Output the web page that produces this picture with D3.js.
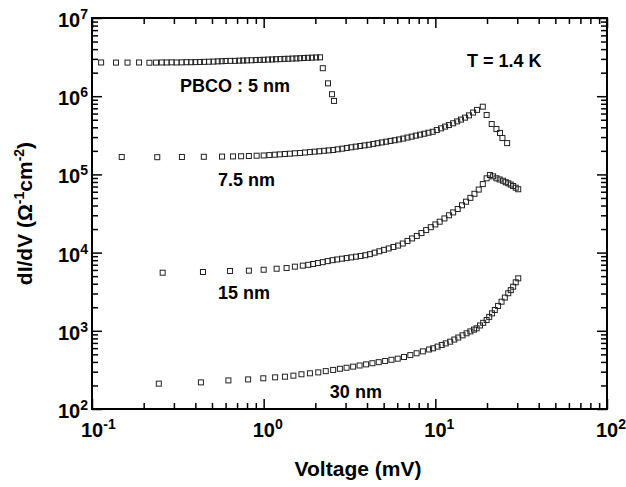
<!DOCTYPE html>
<html>
<head>
<meta charset="utf-8">
<script src="https://cdn.jsdelivr.net/npm/d3@7"></script>
<style>
  body { margin: 0; background: #fff; }
  svg text { font-family: "Liberation Sans", Arial, Helvetica, sans-serif; font-weight: bold; fill: #000; }
</style>
</head>
<body>
<div id="chart"></div>
<script>
// dI/dV vs voltage, four PBCO thicknesses, T = 1.4 K
const v5nm = [0.113, 0.138, 0.161, 0.188, 0.216, 0.236, 0.255, 0.272, 0.291, 0.311, 0.333, 0.355, 0.378, 0.40, 0.425, 0.45, 0.48, 0.51, 0.54, 0.57, 0.60, 0.64, 0.68, 0.72, 0.76, 0.80, 0.85, 0.90, 0.95, 1.00, 1.06, 1.12, 1.18, 1.25, 1.32, 1.39, 1.47, 1.55, 1.63, 1.72, 1.81, 1.91, 2.02, 2.13, 2.21, 2.37, 2.50, 2.57];
const g5nm = [2.70e6, 2.69e6, 2.69e6, 2.70e6, 2.68e6, 2.69e6, 2.70e6, 2.70e6, 2.71e6, 2.70e6, 2.71e6, 2.72e6, 2.72e6, 2.73e6, 2.74e6, 2.75e6, 2.76e6, 2.77e6, 2.79e6, 2.80e6, 2.82e6, 2.83e6, 2.83e6, 2.85e6, 2.86e6, 2.87e6, 2.88e6, 2.90e6, 2.91e6, 2.92e6, 2.94e6, 2.95e6, 2.97e6, 2.98e6, 3.00e6, 3.01e6, 3.03e6, 3.04e6, 3.06e6, 3.08e6, 3.10e6, 3.11e6, 3.13e6, 3.14e6, 2.28e6, 1.46e6, 1.06e6, 8.7e5];

const v75nm = [0.149, 0.24, 0.334, 0.448, 0.572, 0.663, 0.739, 0.82, 0.91, 1.0, 1.08, 1.16, 1.24, 1.33, 1.42, 1.52, 1.63, 1.74, 1.86, 1.98, 2.11, 2.25, 2.39, 2.54, 2.70, 2.87, 3.05, 3.24, 3.44, 3.65, 3.87, 4.10, 4.35, 4.61, 4.88, 5.17, 5.48, 5.80, 6.14, 6.50, 6.88, 7.28, 7.70, 8.15, 8.62, 9.12, 9.65, 10.2, 10.8, 11.4, 12.0, 12.7, 13.4, 14.1, 14.9, 15.7, 16.6, 17.5, 18.9, 19.9, 21.3, 22.7, 23.8, 24.6, 26.2];
const g75nm = [166700, 166000, 167000, 167900, 169000, 169800, 170600, 171800, 173400, 174600, 176600, 178600, 180300, 182400, 184100, 186200, 187900, 190500, 192800, 195400, 197700, 200400, 202800, 205100, 209400, 213300, 217800, 222300, 226500, 230700, 235000, 239300, 245500, 250600, 256400, 261800, 267900, 273500, 279900, 287100, 295800, 304100, 313300, 322100, 331100, 341200, 350800, 369000, 388200, 408300, 427600, 450800, 476400, 502300, 532100, 568900, 618000, 668300, 734500, 575400, 440600, 380200, 338800, 291700, 251200];

const v15nm = [0.258, 0.443, 0.637, 0.82, 1.0, 1.19, 1.36, 1.52, 1.69, 1.82, 1.94, 2.07, 2.21, 2.36, 2.52, 2.68, 2.86, 3.04, 3.24, 3.45, 3.67, 3.91, 4.16, 4.43, 4.72, 5.02, 5.35, 5.70, 6.07, 6.46, 6.88, 7.32, 7.80, 8.30, 8.84, 9.41, 10.0, 10.6, 11.3, 12.0, 12.7, 13.5, 14.3, 15.1, 16.0, 16.9, 17.9, 18.9, 19.9, 20.8, 21.7, 22.7, 23.7, 24.8, 25.7, 26.6, 27.5, 28.4, 29.4, 30.4];
const g15nm = [5530, 5650, 5820, 5875, 6040, 6220, 6350, 6610, 6810, 6980, 7150, 7345, 7550, 7780, 8000, 8170, 8360, 8510, 8690, 8870, 9060, 9250, 9550, 9980, 10400, 10840, 11300, 11800, 12300, 13060, 14090, 15170, 16330, 17780, 19410, 21130, 22910, 24830, 27350, 29990, 32660, 36060, 40270, 44770, 50120, 56490, 63970, 75160, 89130, 98180, 94410, 89130, 86100, 82990, 79430, 76910, 74130, 71120, 67610, 64570];

const v30nm = [0.245, 0.431, 0.623, 0.812, 0.995, 1.166, 1.33, 1.49, 1.66, 1.86, 2.08, 2.30, 2.54, 2.78, 3.04, 3.32, 3.62, 3.95, 4.30, 4.68, 5.10, 5.55, 6.04, 6.57, 7.15, 7.78, 8.46, 9.20, 9.70, 10.3, 10.9, 11.5, 12.2, 12.9, 13.6, 14.4, 15.2, 16.0, 16.8, 17.4, 18.2, 19.0, 19.9, 20.6, 21.4, 22.2, 23.2, 24.3, 25.4, 26.6, 27.5, 28.4, 29.4, 30.4];
const g30nm = [211, 219, 232, 239, 247, 254, 259, 267, 278, 286, 294, 305, 316, 327, 337, 348, 360, 372, 385, 397, 411, 426, 440, 462, 489, 516, 546, 577, 597, 628, 659, 690, 726, 773, 820, 875, 929, 982, 1035, 1076, 1170, 1265, 1374, 1507, 1671, 1845, 2080, 2355, 2661, 3020, 3311, 3664, 4169, 4688];

const xTickExps = [-1, 0, 1, 2];
const yTickExps = [2, 3, 4, 5, 6, 7];
const minorMults = [2, 3, 4, 5, 6, 7, 8, 9];

// label texts, anchored at (voltage, dI/dV) of their left baseline
const labelTexts = ["PBCO : 5 nm", "7.5 nm", "15 nm", "30 nm", "T = 1.4 K"];
const labelV = [0.326, 0.542, 0.542, 2.43, 15.3];
const labelG = [1.13e6, 7.1e4, 2550, 138, 2.36e6];

const W = 626, H = 487;
const margin = { top: 18, right: 19, bottom: 78, left: 92 };
const width = W - margin.left - margin.right;
const height = H - margin.top - margin.bottom;

const x = d3.scaleLog().domain([0.1, 100]).range([0, width]);
const y = d3.scaleLog().domain([1e2, 1e7]).range([height, 0]);

const svg = d3.select("#chart").append("svg")
    .attr("width", W)
    .attr("height", H)
  .append("g")
    .attr("transform", "translate(" + margin.left + "," + margin.top + ")");

function minorTicks(exps) {
  const out = [];
  exps.slice(0, -1).forEach(e => minorMults.forEach(m => out.push(m * Math.pow(10, e))));
  return out;
}
const xMajor = xTickExps.map(e => Math.pow(10, e));
const yMajor = yTickExps.map(e => Math.pow(10, e));

function drawAxis(axisFn, scale, vals, size, transform) {
  const g = svg.append("g")
      .attr("transform", transform)
      .call(axisFn(scale).tickValues(vals).tickSizeInner(size).tickSizeOuter(0).tickFormat(""));
  g.select(".domain").remove();
  g.selectAll(".tick line").attr("stroke", "#000").attr("stroke-width", 1.5);
}

// ticks point inward on all four sides
drawAxis(d3.axisBottom, x, minorTicks(xTickExps), -6, "translate(0," + height + ")");
drawAxis(d3.axisBottom, x, xMajor, -10, "translate(0," + height + ")");
drawAxis(d3.axisTop, x, minorTicks(xTickExps), -6, "translate(0,0)");
drawAxis(d3.axisTop, x, xMajor, -10, "translate(0,0)");
drawAxis(d3.axisLeft, y, minorTicks(yTickExps), -6, "translate(0,0)");
drawAxis(d3.axisLeft, y, yMajor, -10, "translate(0,0)");
drawAxis(d3.axisRight, y, minorTicks(yTickExps), -6, "translate(" + width + ",0)");
drawAxis(d3.axisRight, y, yMajor, -10, "translate(" + width + ",0)");

svg.append("rect")
    .attr("width", width)
    .attr("height", height)
    .attr("fill", "none")
    .attr("stroke", "#000")
    .attr("stroke-width", 2);

// tick labels: 10 with superscript exponent
xTickExps.forEach(e => {
  const t = svg.append("text")
      .attr("x", x(Math.pow(10, e)) - 11)
      .attr("y", height + 28)
      .style("font-size", "20px");
  t.append("tspan").text("10");
  t.append("tspan").attr("dy", -8).style("font-size", "14px").text(e);
});
yTickExps.forEach(e => {
  const t = svg.append("text")
      .attr("x", -4)
      .attr("y", y(Math.pow(10, e)) + 9)
      .attr("text-anchor", "end")
      .style("font-size", "20px");
  t.append("tspan").text("10");
  t.append("tspan").attr("dy", -8).style("font-size", "14px").text(e);
});

// axis titles
svg.append("text")
    .attr("x", 266)
    .attr("y", height + 67)
    .attr("text-anchor", "middle")
    .style("font-size", "21px")
    .text("Voltage (mV)");

const yt = svg.append("text")
    .attr("transform", "translate(-60," + (height / 2) + ") rotate(-90)")
    .attr("text-anchor", "middle")
    .style("font-size", "21px");
yt.append("tspan").text("dI/dV (Ω");
yt.append("tspan").attr("dy", -8).style("font-size", "14px").text("-1");
yt.append("tspan").attr("dy", 8).text("cm");
yt.append("tspan").attr("dy", -8).style("font-size", "14px").text("-2");
yt.append("tspan").attr("dy", 8).text(")");

// data
const series = [
  [v5nm, g5nm],
  [v75nm, g75nm],
  [v15nm, g15nm],
  [v30nm, g30nm]
];
const s = 5;
series.forEach(([vs, gs]) => {
  svg.append("g").selectAll("rect")
    .data(vs.map((v, i) => [v, gs[i]]))
    .join("rect")
      .attr("x", d => x(d[0]) - s / 2)
      .attr("y", d => y(d[1]) - s / 2)
      .attr("width", s)
      .attr("height", s)
      .attr("fill", "none")
      .attr("stroke", "#222")
      .attr("stroke-width", 1);
});

// annotations
labelTexts.forEach((txt, i) => {
  svg.append("text")
      .attr("x", x(labelV[i]))
      .attr("y", y(labelG[i]))
      .style("font-size", "18px")
      .text(txt);
});
</script>
</body>
</html>
